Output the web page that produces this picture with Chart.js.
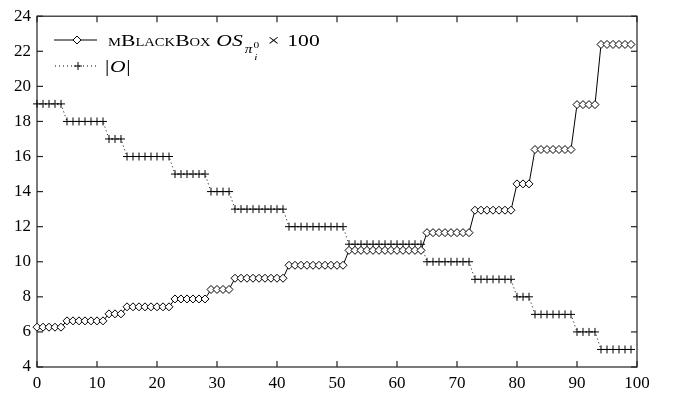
<!DOCTYPE html>
<html>
<head>
<meta charset="utf-8">
<script src="https://cdn.jsdelivr.net/npm/chart.js@4"></script>
<style>
  body { margin: 0; background: #fff; }
  #wrap { width: 676px; height: 394px; position: relative; }
</style>
</head>
<body>
<div id="wrap"><canvas id="chart"></canvas></div>
<script>
// ---------- DATA ----------
const xValues = [
  0, 1, 2, 3, 4, 5, 6, 7, 8, 9,
  10, 11, 12, 13, 14, 15, 16, 17, 18, 19,
  20, 21, 22, 23, 24, 25, 26, 27, 28, 29,
  30, 31, 32, 33, 34, 35, 36, 37, 38, 39,
  40, 41, 42, 43, 44, 45, 46, 47, 48, 49,
  50, 51, 52, 53, 54, 55, 56, 57, 58, 59,
  60, 61, 62, 63, 64, 65, 66, 67, 68, 69,
  70, 71, 72, 73, 74, 75, 76, 77, 78, 79,
  80, 81, 82, 83, 84, 85, 86, 87, 88, 89,
  90, 91, 92, 93, 94, 95, 96, 97, 98, 99
];

// mBlackBox OS x 100
const osValues = [
  6.27, 6.27, 6.27, 6.27, 6.27, 6.63, 6.63, 6.63, 6.63, 6.63,
  6.63, 6.63, 7.03, 7.03, 7.03, 7.43, 7.43, 7.43, 7.43, 7.43,
  7.43, 7.43, 7.43, 7.88, 7.88, 7.88, 7.88, 7.88, 7.88, 8.42,
  8.42, 8.42, 8.42, 9.06, 9.06, 9.06, 9.06, 9.06, 9.06, 9.06,
  9.06, 9.06, 9.80, 9.80, 9.80, 9.80, 9.80, 9.80, 9.80, 9.80,
  9.80, 9.80, 10.65, 10.65, 10.65, 10.65, 10.65, 10.65, 10.65, 10.65,
  10.65, 10.65, 10.65, 10.65, 10.65, 11.66, 11.66, 11.66, 11.66, 11.66,
  11.66, 11.66, 11.66, 12.94, 12.94, 12.94, 12.94, 12.94, 12.94, 12.94,
  14.44, 14.44, 14.44, 16.40, 16.40, 16.40, 16.40, 16.40, 16.40, 16.40,
  18.96, 18.96, 18.96, 18.96, 22.39, 22.39, 22.39, 22.39, 22.39, 22.39
];

// |O|
const oValues = [
  19, 19, 19, 19, 19, 18, 18, 18, 18, 18,
  18, 18, 17, 17, 17, 16, 16, 16, 16, 16,
  16, 16, 16, 15, 15, 15, 15, 15, 15, 14,
  14, 14, 14, 13, 13, 13, 13, 13, 13, 13,
  13, 13, 12, 12, 12, 12, 12, 12, 12, 12,
  12, 12, 11, 11, 11, 11, 11, 11, 11, 11,
  11, 11, 11, 11, 11, 10, 10, 10, 10, 10,
  10, 10, 10, 9, 9, 9, 9, 9, 9, 9,
  8, 8, 8, 7, 7, 7, 7, 7, 7, 7,
  6, 6, 6, 6, 5, 5, 5, 5, 5, 5
];

const xTicks = [0, 10, 20, 30, 40, 50, 60, 70, 80, 90, 100];
const yTicks = [4, 6, 8, 10, 12, 14, 16, 18, 20, 22, 24];

const SERIF = '"Liberation Serif", "DejaVu Serif", serif';
Chart.defaults.font.family = SERIF;
Chart.defaults.font.size = 17;
Chart.defaults.color = '#000';

// ---------- HELPERS ----------
function line(ctx, x1, y1, x2, y2) {
  ctx.beginPath();
  ctx.moveTo(x1, y1);
  ctx.lineTo(x2, y2);
  ctx.stroke();
}

function diamond(ctx, x, y, r) {
  ctx.beginPath();
  ctx.moveTo(x - r, y);
  ctx.lineTo(x, y - r);
  ctx.lineTo(x + r, y);
  ctx.lineTo(x, y + r);
  ctx.closePath();
  ctx.fillStyle = '#fff';
  ctx.fill();
  ctx.stroke();
}

// draws text pieces left to right, returns end x
function drawRun(ctx, x, pieces) {
  pieces.forEach(p => {
    ctx.font = p.font;
    ctx.fillText(p.text, x, p.y);
    x += ctx.measureText(p.text).width + (p.gap || 0);
  });
  return x;
}

// ---------- FRAME + INNER TICKS ----------
const framePlugin = {
  id: 'frame',
  beforeDatasetsDraw(chart) {
    const { ctx, chartArea: a, scales: { x, y } } = chart;
    ctx.save();
    ctx.strokeStyle = '#222';
    ctx.lineWidth = 1.2;
    ctx.strokeRect(a.left, a.top, a.right - a.left, a.bottom - a.top);
    const len = 6;
    x.ticks.forEach(t => {
      const px = x.getPixelForValue(t.value);
      line(ctx, px, a.bottom, px, a.bottom - len);
      line(ctx, px, a.top, px, a.top + len);
    });
    y.ticks.forEach(t => {
      const py = y.getPixelForValue(t.value);
      line(ctx, a.left, py, a.left + len, py);
      line(ctx, a.right, py, a.right - len, py);
    });
    ctx.restore();
  }
};

// ---------- LEGEND (TeX style, text is a bit wide in the original) ----------
const STRETCH = 1.27;
const legendPlugin = {
  id: 'texLegend',
  afterDraw(chart) {
    const ctx = chart.ctx;
    ctx.save();
    ctx.strokeStyle = '#000';
    ctx.fillStyle = '#000';
    ctx.lineWidth = 1;

    // row 1: solid line + diamond
    const y1 = 40;
    line(ctx, 54, y1, 97, y1);
    diamond(ctx, 77, y1, 4);

    // row 2: dotted line + cross
    const y2 = 66;
    ctx.setLineDash([1, 3]);
    line(ctx, 55, y2, 97, y2);
    ctx.setLineDash([]);
    line(ctx, 74, y2, 82, y2);
    line(ctx, 78, y2 - 4, 78, y2 + 4);

    ctx.fillStyle = '#000';
    ctx.textBaseline = 'alphabetic';
    const big = '17px ' + SERIF;
    const small = '11.5px ' + SERIF;
    const ital = 'italic 17px ' + SERIF;

    // row 1 text
    ctx.save();
    ctx.translate(108, 0);
    ctx.scale(STRETCH, 1);
    const base = 46;
    let x = drawRun(ctx, 0, [
      { text: 'M', font: small, y: base },
      { text: 'B', font: big, y: base },
      { text: 'LACK', font: small, y: base },
      { text: 'B', font: big, y: base },
      { text: 'OX', font: small, y: base, gap: 4.5 },
      { text: 'OS', font: ital, y: base, gap: 1.5 },
      { text: 'π', font: 'italic 12px ' + SERIF, y: base + 7, gap: 1 }
    ]);
    ctx.font = '9px ' + SERIF;
    ctx.fillText('0', x, base + 2);
    ctx.font = 'italic 9px ' + SERIF;
    ctx.fillText('i', x + 0.5, base + 14);
    drawRun(ctx, x + 11, [
      { text: '×', font: big, y: base, gap: 6 },
      { text: '100', font: big, y: base }
    ]);
    ctx.restore();

    // row 2 text
    ctx.save();
    ctx.translate(105, 0);
    ctx.scale(STRETCH, 1);
    const base2 = 72;
    drawRun(ctx, 0, [
      { text: '|', font: big, y: base2, gap: 0.5 },
      { text: 'O', font: ital, y: base2, gap: 0.5 },
      { text: '|', font: big, y: base2 }
    ]);
    ctx.restore();

    ctx.restore();
  }
};

// ---------- CHART ----------
const ctx = document.getElementById('chart').getContext('2d');
new Chart(ctx, {
  type: 'line',
  data: {
    datasets: [
      {
        label: 'mBlackBox OS x 100',
        data: xValues.map((v, i) => ({ x: v, y: osValues[i] })),
        borderColor: '#000',
        borderWidth: 1,
        pointStyle: 'rectRot',
        pointRadius: 4,
        pointBackgroundColor: '#fff',
        pointBorderColor: '#000',
        pointBorderWidth: 1,
        tension: 0,
        clip: false
      },
      {
        label: '|O|',
        data: xValues.map((v, i) => ({ x: v, y: oValues[i] })),
        borderColor: '#000',
        borderWidth: 1,
        borderDash: [1, 3],
        pointStyle: 'cross',
        pointRadius: 4,
        pointBorderColor: '#000',
        pointBorderWidth: 1,
        tension: 0,
        clip: false
      }
    ]
  },
  options: {
    responsive: true,
    maintainAspectRatio: false,
    animation: false,
    layout: { padding: { top: 10, right: 39, left: 0, bottom: 0 } },
    plugins: {
      legend: { display: false },
      tooltip: { enabled: false }
    },
    scales: {
      x: {
        type: 'linear',
        min: 0,
        max: 100,
        afterBuildTicks: s => { s.ticks = xTicks.map(v => ({ value: v })); },
        afterFit: s => { s.height = 27; },
        grid: { display: false, drawTicks: false },
        border: { display: false },
        ticks: { color: '#000', padding: 6, maxRotation: 0, font: { family: SERIF, size: 17 } }
      },
      y: {
        type: 'linear',
        min: 4,
        max: 24,
        afterBuildTicks: s => { s.ticks = yTicks.map(v => ({ value: v })); },
        afterFit: s => { s.width = 37; },
        grid: { display: false, drawTicks: false },
        border: { display: false },
        ticks: { color: '#000', padding: 6, font: { family: SERIF, size: 17 } }
      }
    }
  },
  plugins: [framePlugin, legendPlugin]
});
</script>
</body>
</html>
